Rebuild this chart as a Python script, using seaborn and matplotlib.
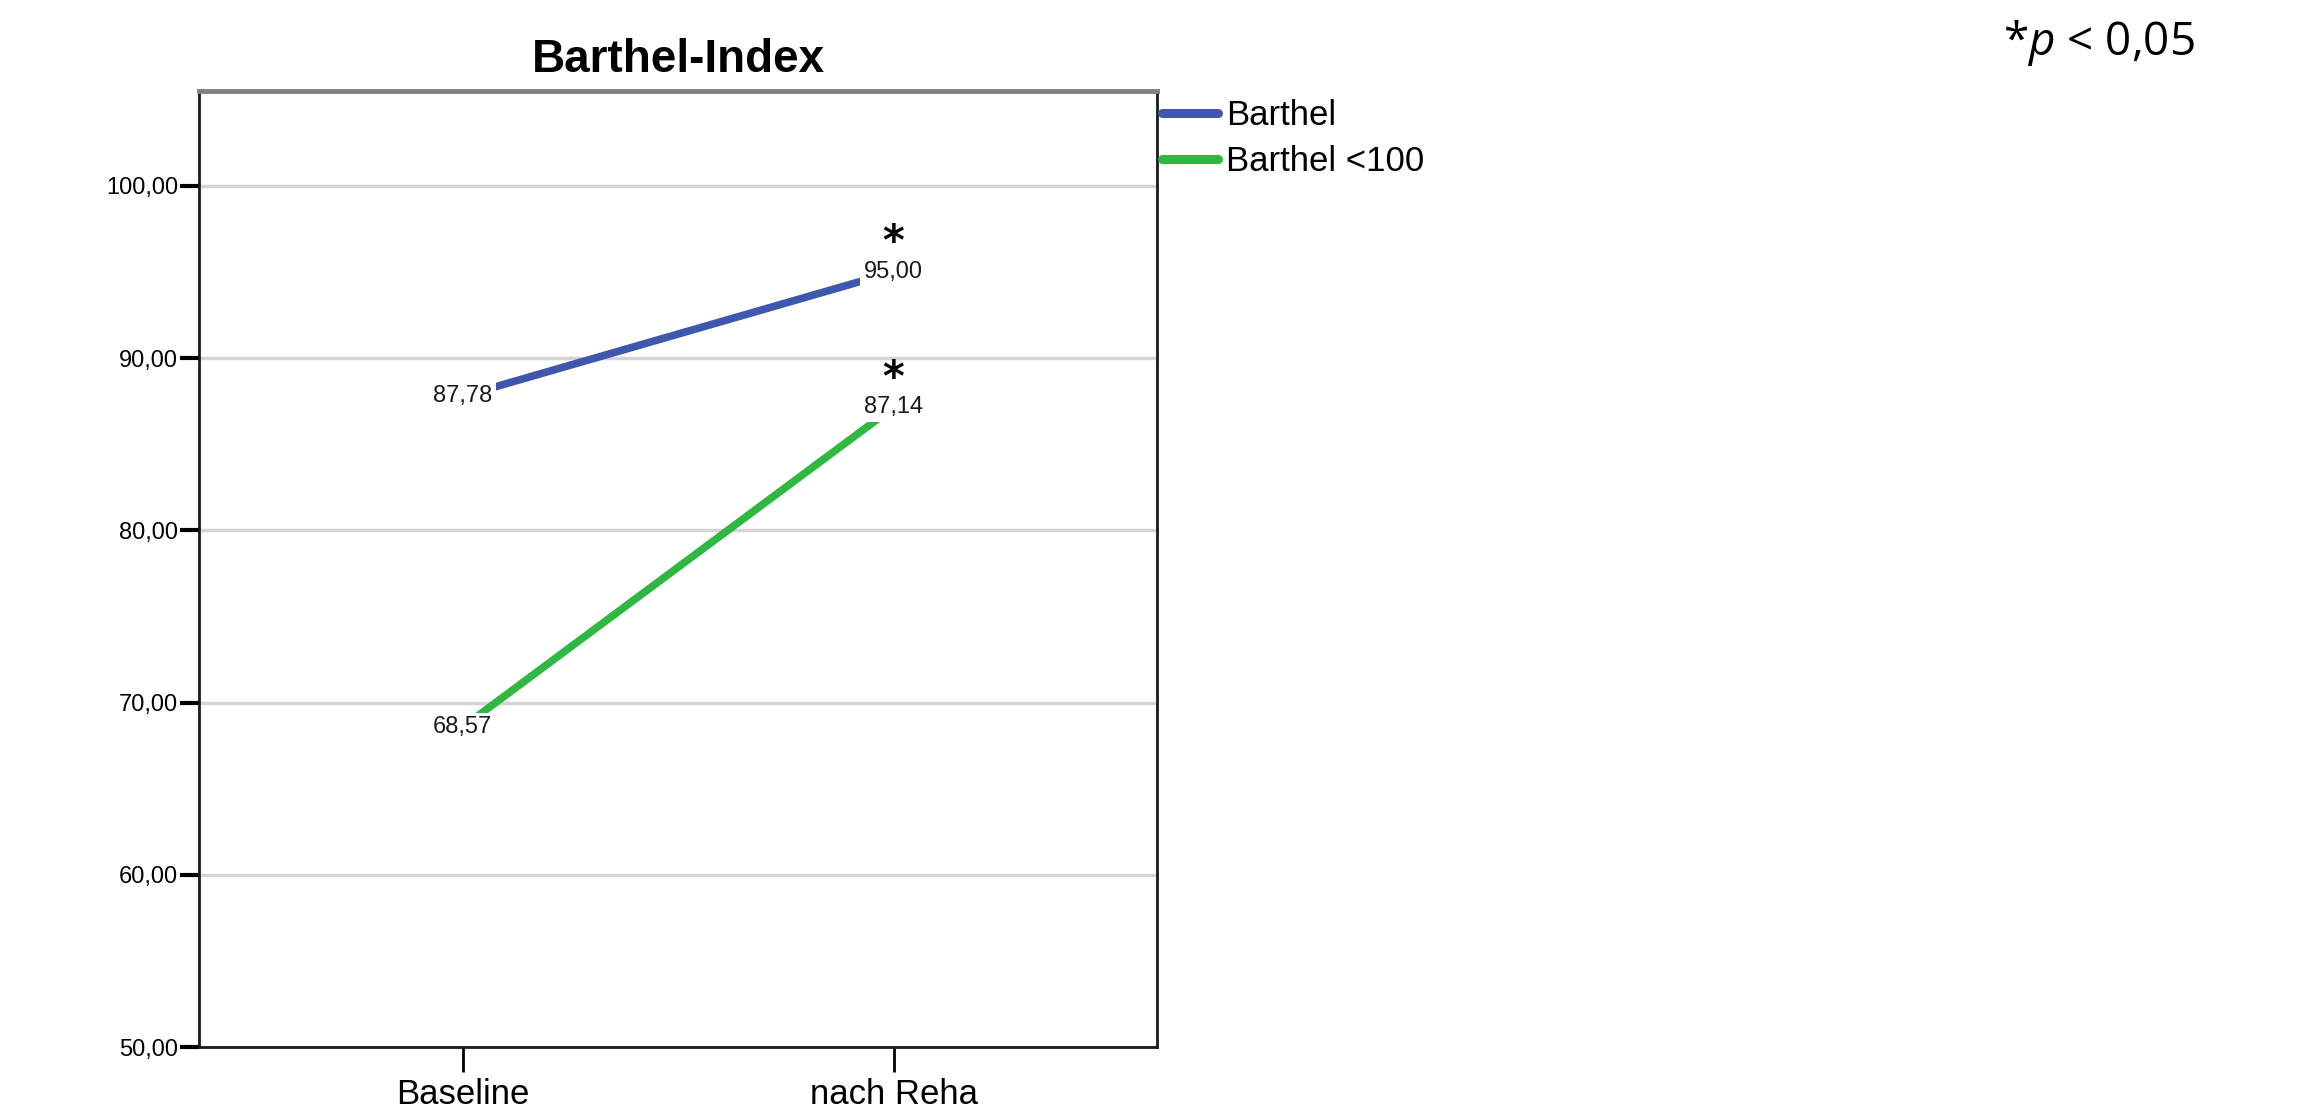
import pandas as pd
import matplotlib.pyplot as plt
import seaborn as sns

# values
zeitpunkte = ["Baseline", "nach Reha"]
barthel = [87.78, 95.00]
barthel_u100 = [68.57, 87.14]
gruppen = ["Barthel", "Barthel <100"]
farben = ["#3f57ad", "#2eb842"]
signifikant = [False, True]  # asterisk over "nach Reha" point
y_ticks = [50, 60, 70, 80, 90, 100]

df = pd.DataFrame({
    "Zeitpunkt": zeitpunkte * 2,
    "Wert": barthel + barthel_u100,
    "Gruppe": [gruppen[0]] * 2 + [gruppen[1]] * 2,
})

sns.set_style("white")
plt.rcParams["font.family"] = ["Liberation Sans", "DejaVu Sans"]
plt.rcParams["text.color"] = "black"
plt.rcParams["xtick.color"] = "black"
plt.rcParams["ytick.color"] = "black"
plt.rcParams["mathtext.fontset"] = "custom"
plt.rcParams["mathtext.rm"] = "Open Sans"
plt.rcParams["mathtext.it"] = "Open Sans:italic"
plt.rcParams["mathtext.bf"] = "DejaVu Sans:bold"

fig = plt.figure(figsize=(23.15, 11.14), dpi=100)
ax = fig.add_axes([0.086, 0.0601, 0.4138, 0.8582])

sns.lineplot(data=df, x="Zeitpunkt", y="Wert", hue="Gruppe", palette=farben,
             linewidth=5.5, ax=ax, legend=False, zorder=3)

ax.set_xlim(-0.6115, 1.6115)
ax.set_ylim(50, 105.5)
ax.set_yticks(y_ticks)
ax.set_yticklabels([f"{v:.2f}".replace(".", ",") for v in y_ticks], fontsize=17)
ax.tick_params(axis="x", bottom=True, labelsize=25, length=18, width=2,
               direction="out", pad=4, colors="black")
ax.tick_params(axis="y", left=True, length=14, width=3, direction="out", pad=1,
               colors="black")
ax.yaxis.grid(True, color="#d4d4d4", linewidth=2.5, zorder=0)
ax.set_axisbelow(True)
ax.set_xlabel("")
ax.set_ylabel("")

for s in ["left", "bottom", "right"]:
    ax.spines[s].set_color("#1a1a1a")
    ax.spines[s].set_linewidth(2)
ax.spines["top"].set_color("#808080")
ax.spines["top"].set_linewidth(3.5)

ax.set_title("Barthel-Index", fontsize=33, fontweight="bold", pad=14)

# data labels with white boxes (they cover the line ends as in the original)
for werte in [barthel, barthel_u100]:
    for i, v in enumerate(werte):
        ax.annotate(f"{v:.2f}".replace(".", ","), (i, v), ha="center", va="center",
                    fontsize=17, color="#1a1a1a", zorder=5,
                    bbox=dict(boxstyle="square,pad=0.15", fc="white", ec="none"))
        if signifikant[i]:
            ax.annotate("$\\mathbf{*}$", (i, v), xytext=(0, 13.5),
                        textcoords="offset points", ha="center", va="baseline",
                        fontsize=30, zorder=6)

handles = [plt.Line2D([], [], color=c, linewidth=6.5) for c in farben]
fig.legend(handles, gruppen, loc="upper left", bbox_to_anchor=(0.5020, 0.911),
           frameon=False, fontsize=25, handlelength=1.6, handletextpad=0.25,
           labelspacing=0.38, borderpad=0, borderaxespad=0)

fig.text(0.8652, 0.951, "*$\\it{p}$ < 0,05", fontsize=33, family="Open Sans",
         ha="left", va="baseline")

fig.savefig("out.png", dpi=100)
